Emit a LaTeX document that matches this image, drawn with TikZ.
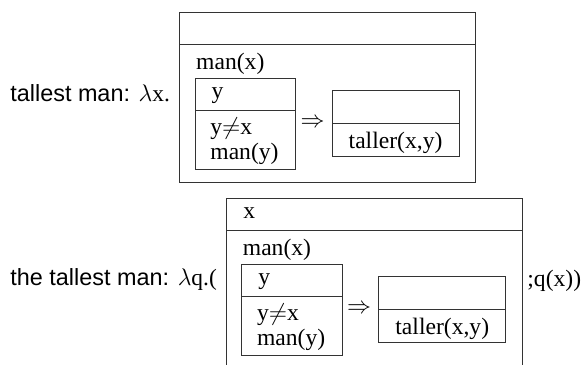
\documentclass[tikz,border=0pt]{standalone}
\usepackage{fontspec}
\setmainfont{Liberation Serif}
\setsansfont{Liberation Sans}
\usetikzlibrary{positioning}

\tikzset{
  drs/.style={line width=0.5pt, draw=black!80},
  cond/.style={anchor=base west, inner sep=0pt, font=\fontsize{11.8}{13.5}\selectfont},
  gloss/.style={anchor=base west, inner sep=0pt, font=\fontsize{11.7}{13.5}\selectfont},
  pics/tallest/.style={code={
    % outer box
    \draw[drs] (0,0) rectangle (296,170);
    \draw[drs] (0,32.5) -- (296,32.5);
    \node[cond] (-manx) at (16.5,57) {man(x)};
    % antecedent
    \draw[drs] (15.7,66) rectangle (116.4,157.5);
    \draw[drs] (15.7,98) -- (116.4,98);
    \node[cond] (-y) at (32,86) {y};
    \node[cond] (-neq) at (30.7,122) {y$\neq$x};
    \node[cond] (-many) at (30.7,147.5) {man(y)};
    % consequent
    \node[font=\fontsize{11.8}{13.5}\selectfont, inner sep=0pt] (-imp) at (133.2,111) {$\Rightarrow$};
    \draw[drs] (152.9,78.5) rectangle (279.7,144);
    \draw[drs] (152.9,111) -- (279.7,111);
    \node[cond] (-taller) at (169,136) {taller(x,y)};
  }}
}

\begin{document}
\begin{tikzpicture}[x=0.5pt, y=-0.5pt]
  \useasboundingbox (0,0) rectangle (582,364);
  \clip (0,0) rectangle (582,364);
  % tallest man
  \node[gloss] (tallestlbl) at (10,101) {{\sffamily tallest man: }$\lambda$x.};
  \pic (tm) at (179.3,12) {tallest};
  % the tallest man
  \node[gloss] (thelbl) at (10,285) {{\sffamily the tallest man: }$\lambda$q.(};
  \pic (ttm) at (226,198.3) {tallest};
  \node[cond] (ttmuniv) at (243,218) {x};
  \node[cond] (qlbl) at (527,286) {;q(x))};
\end{tikzpicture}
\end{document}
